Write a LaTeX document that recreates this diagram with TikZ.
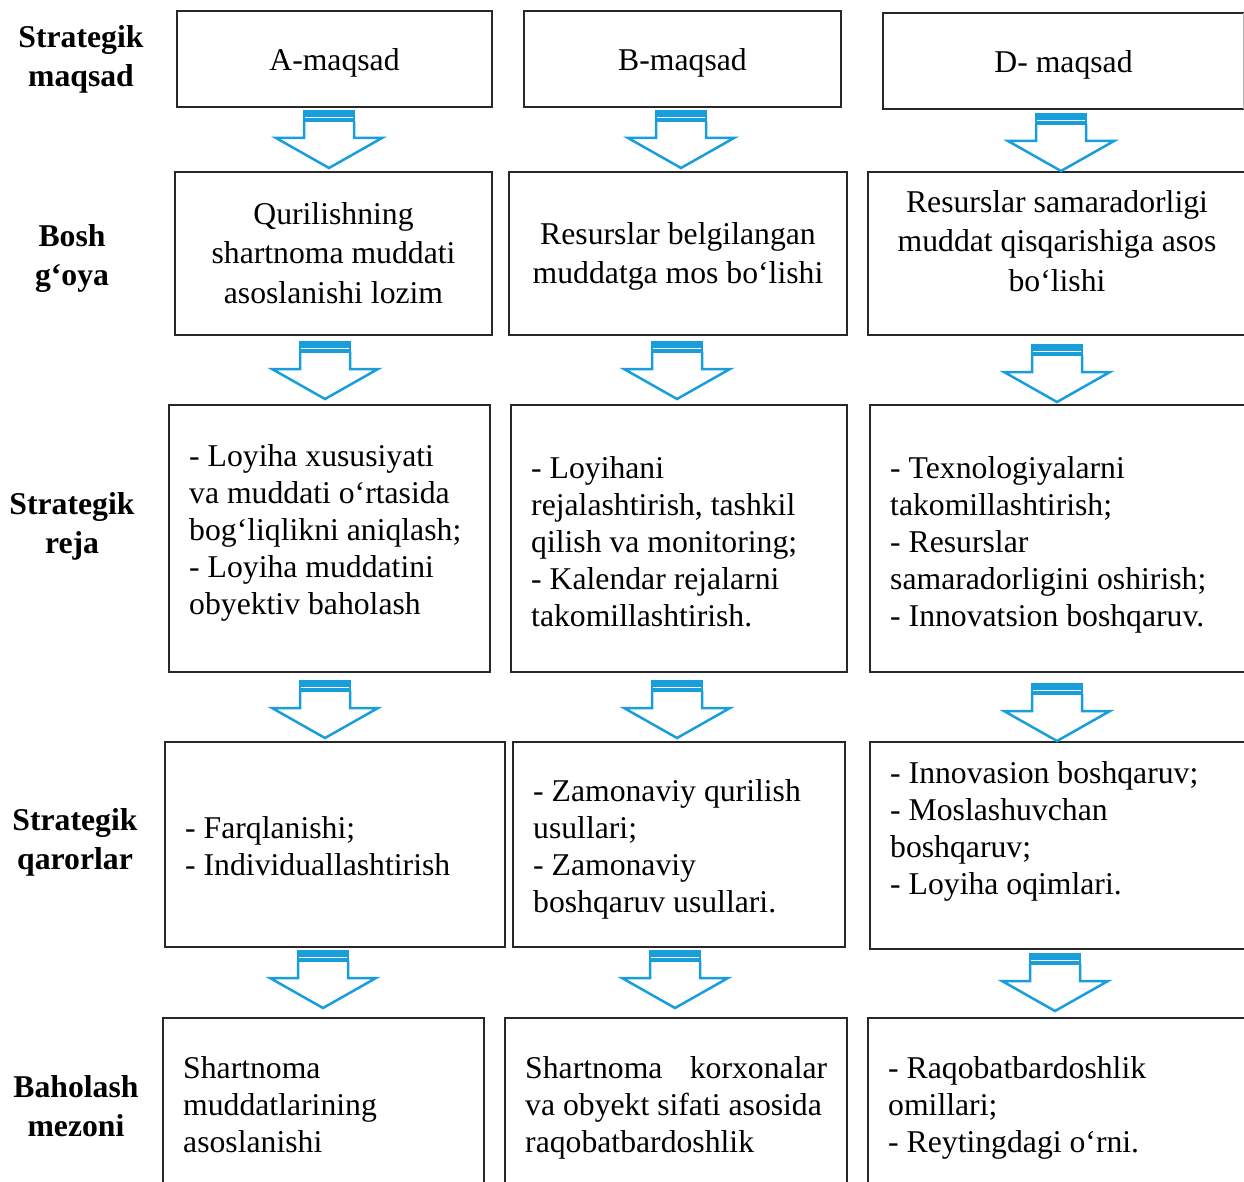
\documentclass[tikz,border=0pt]{standalone}
\usepackage{fontspec}
\setmainfont{Liberation Serif}
\definecolor{arrblue}{RGB}{24,158,218}
\definecolor{boxline}{RGB}{40,40,40}
\tikzset{
  box/.style={draw=boxline, line width=1.2pt, anchor=north west, inner sep=0pt, outer sep=0pt},
  txt/.style={inner sep=0pt, font=\fontsize{31.7}{37}\selectfont, align=left, anchor=north west},
  ctxt/.style={inner sep=0pt, font=\fontsize{31.7}{39.5}\selectfont, align=center, anchor=north},
  lbl/.style={inner sep=0pt, font=\fontsize{31.7}{39}\selectfont\bfseries, align=center, anchor=north},
  blockarrow/.pic={
    \fill[arrblue] (-26,0) rectangle (26,12);
    \draw[white, line width=0.9pt] (-24,7.5) -- (24,7.5);
    \draw[arrblue, line width=2.5pt, line join=miter]
      (-25,11) -- (-25,28) -- (-53,28) -- (0,58) -- (53,28) -- (25,28) -- (25,11);
  }
}
\newcommand{\mybox}[5]{\node[box, minimum width={#4pt-#2pt}, minimum height={#5pt-#3pt}] (#1) at (#2,#3) {};}
\newcommand{\fs}{\rule{0pt}{25pt}}
\begin{document}
\begin{tikzpicture}[x=1pt,y=-1pt]
\useasboundingbox (0,0) rectangle (1244,1182);
\fill[white] (0,0) rectangle (1244,1182);

% left labels
\node[lbl] (l1) at (81,22) {\fs Strategik\\maqsad};
\node[lbl] (l2) at (72,221) {\fs Bosh\\g‘oya};
\node[lbl] (l3) at (72,489) {\fs Strategik\\reja};
\node[lbl] (l4) at (75,805) {\fs Strategik\\qarorlar};
\node[lbl] (l5) at (76,1072) {\fs Baholash\\mezoni};

% row 1
\mybox{a1}{177}{11}{492}{107}
\mybox{b1}{524}{11}{841}{107}
\mybox{d1}{883}{13}{1252}{109}
\draw[black!30, line width=1pt] (1243.5,13) -- (1243.5,109);
\node[ctxt] (ta1) at (334.5,45) {\fs A-maqsad};
\node[ctxt] (tb1) at (682.5,45) {\fs B-maqsad};
\node[ctxt] (td1) at (1063.5,47) {\fs D- maqsad};

% row 2
\mybox{a2}{175}{172}{492}{335}
\mybox{b2}{509}{172}{847}{335}
\mybox{d2}{868}{172}{1252}{335}
\node[ctxt] (ta2) at (333.5,199) {\fs Qurilishning\\shartnoma muddati\\asoslanishi lozim};
\node[ctxt] (tb2) at (678,219) {\fs Resurslar belgilangan\\muddatga mos bo‘lishi};
\node[ctxt] (td2) at (1057,187) {\fs Resurslar samaradorligi\\muddat qisqarishiga asos\\bo‘lishi};

% row 3
\mybox{a3}{169}{405}{490}{672}
\mybox{b3}{511}{405}{847}{672}
\mybox{d3}{870}{405}{1252}{672}
\node[txt] (ta3) at (189,441) {\fs - Loyiha xususiyati\\va muddati o‘rtasida\\bog‘liqlikni aniqlash;\\- Loyiha muddatini\\obyektiv baholash};
\node[txt] (tb3) at (531,453) {\fs - Loyihani\\rejalashtirish, tashkil\\qilish va monitoring;\\- Kalendar rejalarni\\takomillashtirish.};
\node[txt] (td3) at (890,453) {\fs - Texnologiyalarni\\takomillashtirish;\\- Resurslar\\samaradorligini oshirish;\\- Innovatsion boshqaruv.};

% row 4
\mybox{a4}{165}{742}{505}{947}
\mybox{b4}{513}{742}{845}{947}
\mybox{d4}{870}{742}{1252}{949}
\node[txt] (ta4) at (185,813) {\fs - Farqlanishi;\\- Individuallashtirish};
\node[txt] (tb4) at (533,776) {\fs - Zamonaviy qurilish\\usullari;\\- Zamonaviy\\boshqaruv usullari.};
\node[txt] (td4) at (890,758) {\fs - Innovasion boshqaruv;\\- Moslashuvchan\\boshqaruv;\\- Loyiha oqimlari.};

% row 5
\mybox{a5}{163}{1018}{484}{1192}
\mybox{b5}{505}{1018}{847}{1192}
\mybox{d5}{868}{1018}{1252}{1192}
\node[txt] (ta5) at (183,1053) {\fs Shartnoma\\muddatlarining\\asoslanishi};
\node[txt] (tb5) at (525,1053) {\fs\hbox to 302pt{Shartnoma\hfill korxonalar}\\va obyekt sifati asosida\\raqobatbardoshlik};
\node[txt] (td5) at (888,1053) {\fs - Raqobatbardoshlik\\omillari;\\- Reytingdagi o‘rni.};

% arrows
\pic at (329,110) {blockarrow};
\pic at (681,110) {blockarrow};
\pic at (1061,113) {blockarrow};
\pic at (325,341) {blockarrow};
\pic at (677,341) {blockarrow};
\pic at (1057,344) {blockarrow};
\pic at (325,680) {blockarrow};
\pic at (677,680) {blockarrow};
\pic at (1057,683) {blockarrow};
\pic at (323,950) {blockarrow};
\pic at (675,950) {blockarrow};
\pic at (1055,953) {blockarrow};
\end{tikzpicture}
\end{document}
